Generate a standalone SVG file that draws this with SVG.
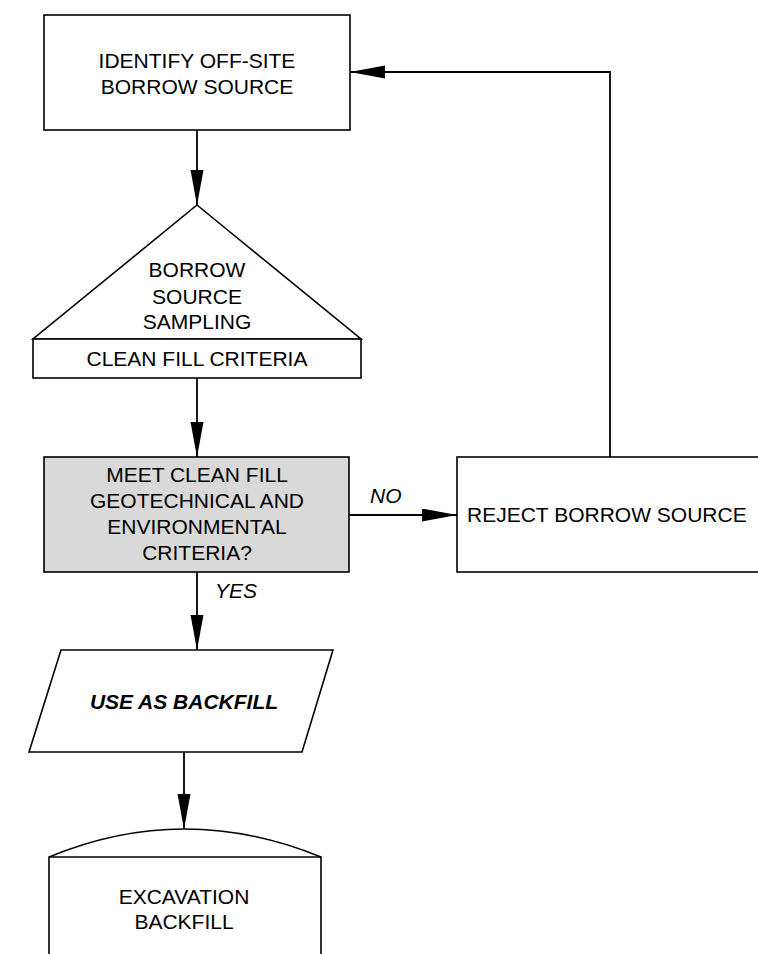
<svg xmlns="http://www.w3.org/2000/svg" width="758" height="954" viewBox="0 0 758 954">
<style>
.box{fill:#fff;stroke:#000;stroke-width:1.6}
.gray{fill:#d9d9d9;stroke:#000;stroke-width:1.6}
.t{font-family:"Liberation Sans",Arial,sans-serif;font-size:21px;fill:#000;text-anchor:middle}
.lbl{font-family:"Liberation Sans",Arial,sans-serif;font-size:21px;fill:#000;font-style:italic}
.c{fill:none;stroke:#000;stroke-width:1.8}
</style>
<defs>
<marker id="ah" markerUnits="userSpaceOnUse" markerWidth="36" markerHeight="14" refX="35" refY="6.5" orient="auto">
<path d="M0,0 L35,6.5 L0,13 z" fill="#000"/>
</marker>
</defs>
<rect width="758" height="954" fill="#fff"/>
<g id="connectors">
<line class="c" x1="197" y1="130" x2="197" y2="205" marker-end="url(#ah)"/>
<line class="c" x1="197" y1="378" x2="197" y2="457" marker-end="url(#ah)"/>
<line class="c" x1="349" y1="515" x2="457" y2="515" marker-end="url(#ah)"/>
<polyline class="c" points="610,457 610,72 350,72" marker-end="url(#ah)"/>
<line class="c" x1="197" y1="572" x2="197" y2="650" marker-end="url(#ah)"/>
<line class="c" x1="184" y1="752" x2="184" y2="829" marker-end="url(#ah)"/>
<text class="lbl" x="370" y="503">NO</text>
<text class="lbl" x="215" y="598">YES</text>
</g>
<g id="identify">
<rect class="box" x="44" y="15" width="306" height="115"/>
<text class="t" x="197" y="68">IDENTIFY OFF-SITE</text>
<text class="t" x="197" y="94">BORROW SOURCE</text>
</g>
<g id="sampling">
<polygon class="box" points="197,205 361,339 33,339"/>
<rect class="box" x="33" y="339" width="328" height="39"/>
<text class="t" x="197" y="277">BORROW</text>
<text class="t" x="197" y="304">SOURCE</text>
<text class="t" x="197" y="329">SAMPLING</text>
<text class="t" x="197" y="366">CLEAN FILL CRITERIA</text>
</g>
<g id="meet">
<rect class="gray" x="44" y="457" width="305" height="115"/>
<text class="t" x="197" y="482">MEET CLEAN FILL</text>
<text class="t" x="197" y="508">GEOTECHNICAL AND</text>
<text class="t" x="197" y="534">ENVIRONMENTAL</text>
<text class="t" x="197" y="560">CRITERIA?</text>
</g>
<g id="reject">
<rect class="box" x="457" y="457" width="310" height="115"/>
<text class="t" x="467" y="522" style="text-anchor:start">REJECT BORROW SOURCE</text>
</g>
<g id="use">
<polygon class="box" points="61,650 333,650 302,752 29,752"/>
<text class="t" x="184" y="709" style="font-weight:bold;font-style:italic">USE AS BACKFILL</text>
</g>
<g id="excavation">
<path class="box" d="M49,960 L49,857 Q184,801 321,857 L321,960"/>
<line class="c" x1="49" y1="857" x2="321" y2="857" style="stroke-width:1.6"/>
<text class="t" x="184" y="904">EXCAVATION</text>
<text class="t" x="184" y="929">BACKFILL</text>
</g>
</svg>
